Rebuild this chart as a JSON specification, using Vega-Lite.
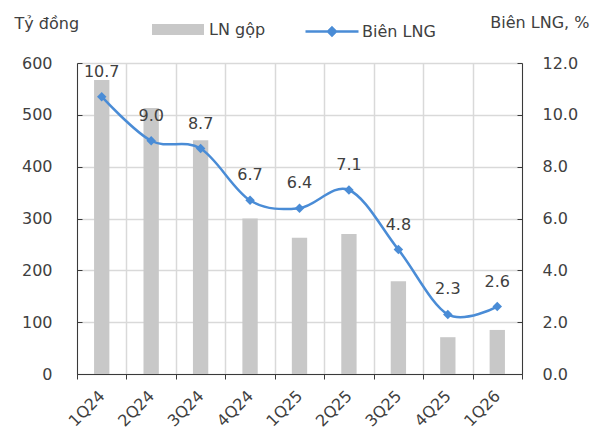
{
  "$schema": "https://vega.github.io/schema/vega-lite/v6.json",
  "width": 445,
  "height": 311,
  "autosize": {"type": "none"},
  "padding": {"left": 77, "top": 63, "right": 80, "bottom": 60},
  "background": "white",
  "config": {
    "font": "DejaVu Sans",
    "view": {"stroke": null},
    "axis": {
      "labelFont": "DejaVu Sans",
      "labelFontSize": 16,
      "labelColor": "#404040",
      "titleFont": "DejaVu Sans",
      "titleFontSize": 16,
      "titleFontWeight": "normal",
      "titleColor": "#404040",
      "domainColor": "#3a3a3a",
      "tickColor": "#3a3a3a",
      "gridColor": "#d9d9d9",
      "gridWidth": 1.5
    },
    "legend": {
      "labelFont": "DejaVu Sans",
      "labelFontSize": 16,
      "labelColor": "#404040",
      "padding": 0
    }
  },
  "data": {
    "values": [
      {"q": "1Q24", "ln": 567, "bien": 10.7},
      {"q": "2Q24", "ln": 513, "bien": 9.0},
      {"q": "3Q24", "ln": 451, "bien": 8.7},
      {"q": "4Q24", "ln": 300, "bien": 6.7},
      {"q": "1Q25", "ln": 263, "bien": 6.4},
      {"q": "2Q25", "ln": 270, "bien": 7.1},
      {"q": "3Q25", "ln": 179, "bien": 4.8},
      {"q": "4Q25", "ln": 71, "bien": 2.3},
      {"q": "1Q26", "ln": 85, "bien": 2.6}
    ]
  },
  "encoding": {
    "x": {
      "field": "q",
      "type": "nominal",
      "sort": null,
      "scale": {"paddingInner": 0, "paddingOuter": 0},
      "axis": {
        "title": null,
        "labelAngle": -45,
        "labelAlign": "right",
        "labelBaseline": "middle",
        "tickBand": "extent",
        "tickSize": 5,
        "labelPadding": 14,
        "grid": true
      }
    }
  },
  "layer": [
    {
      "mark": {"type": "bar", "width": {"band": 0.31}},
      "encoding": {
        "y": {
          "field": "ln",
          "type": "quantitative",
          "scale": {"domain": [0, 600]},
          "axis": {
            "orient": "left",
            "values": [0, 100, 200, 300, 400, 500, 600],
            "grid": true,
            "tickSize": -5,
            "labelPadding": 30,
            "title": "Tỷ đồng",
            "titleAngle": 0,
            "titleAlign": "left",
            "titleBaseline": "alphabetic",
            "titleX": -63,
            "titleY": -35
          }
        },
        "color": {
          "datum": "LN gộp",
          "scale": {"range": ["#c8c8c8"]},
          "legend": {
            "title": null,
            "orient": "none",
            "legendX": 75,
            "legendY": -59.5,
            "symbolType": "M-1,-0.21H1V0.21H-1Z",
            "symbolSize": 2704,
            "symbolStrokeWidth": 0,
            "labelOffset": 5
          }
        }
      }
    },
    {
      "encoding": {
        "y": {
          "field": "bien",
          "type": "quantitative",
          "scale": {"domain": [0, 12]},
          "axis": {
            "orient": "right",
            "values": [0, 2, 4, 6, 8, 10, 12],
            "format": ".1f",
            "grid": false,
            "tickSize": -5,
            "labelPadding": 25,
            "title": "Biên LNG, %",
            "titleAngle": 0,
            "titleAlign": "right",
            "titleBaseline": "alphabetic",
            "titleX": 67,
            "titleY": -36
          }
        }
      },
      "layer": [
        {
          "mark": {"type": "line", "interpolate": "cardinal", "tension": 0, "strokeWidth": 2.5},
          "encoding": {
            "stroke": {
              "datum": "Biên LNG",
              "scale": {"range": ["#4a8cd6"]},
              "legend": {
                "title": null,
                "orient": "none",
                "legendX": 227,
                "legendY": -59.5,
                "symbolType": "M-1,0H1M0,-0.15L0.15,0L0,0.15L-0.15,0Z",
                "symbolSize": 2809,
                "symbolStrokeWidth": 2.5,
                "symbolFillColor": "#4a8cd6",
                "labelOffset": 2
              }
            }
          }
        },
        {
          "mark": {"type": "point", "shape": "diamond", "filled": true, "size": 90, "color": "#4a8cd6", "opacity": 1}
        },
        {
          "mark": {"type": "text", "dy": -20, "fontSize": 16, "color": "#404040", "baseline": "alphabetic"},
          "encoding": {
            "text": {"field": "bien", "type": "quantitative", "format": ".1f"}
          }
        }
      ]
    }
  ],
  "resolve": {"scale": {"y": "independent"}}
}
